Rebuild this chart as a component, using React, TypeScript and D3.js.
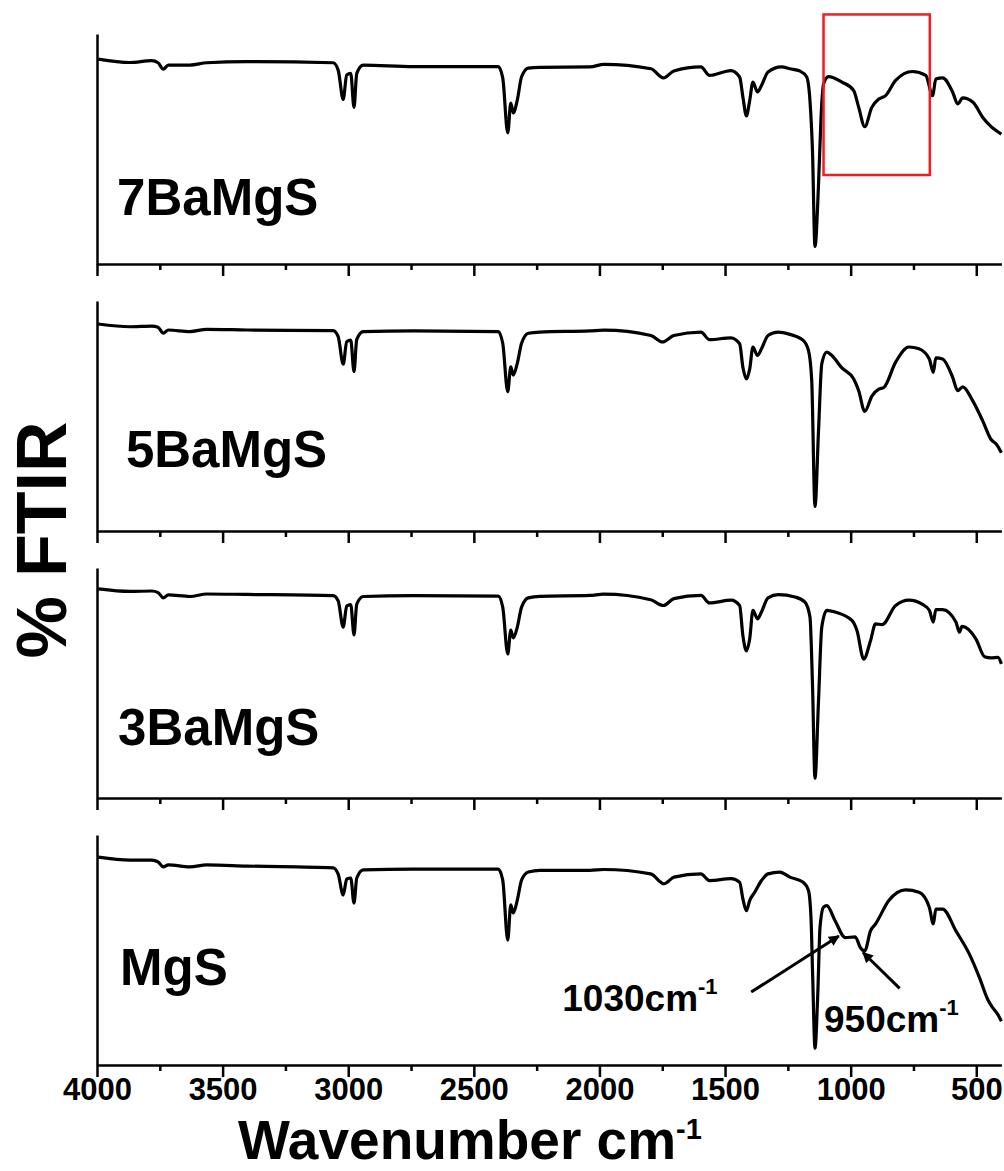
import React, { useRef, useEffect } from 'react';
import * as d3 from 'd3';

type Pt = [number, number];

// [wavenumber cm-1, %T], one array per sample
const ba7: Pt[] = [
  [3995, 89.1], [3869, 87.6], [3782, 88.4], [3757, 87.5], [3736, 84.7], [3716, 86.5], [3630, 86.5],
  [3563, 87.5], [3404, 88.0], [3060, 87.5], [3040, 84.3], [3020, 71.6], [3006, 82.2], [2990, 82.9],
  [2977, 68.1], [2966, 82.9], [2940, 86.5], [2741, 85.8], [2403, 85.8], [2385, 80.9], [2365, 57.0],
  [2353, 70.0], [2343, 65.7], [2327, 71.3], [2310, 81.4], [2283, 85.2], [2237, 85.5], [2038, 85.7],
  [1982, 86.8], [1795, 84.9], [1745, 80.9], [1704, 83.9], [1596, 85.7], [1562, 82.0], [1477, 84.1],
  [1442, 81.3], [1429, 72.6], [1415, 64.4], [1402, 71.0], [1389, 79.1], [1371, 74.8], [1355, 77.6],
  [1329, 83.5], [1275, 85.7], [1242, 84.9], [1202, 83.9], [1175, 81.3], [1162, 71.0], [1152, 49.1],
  [1142, 7.6], [1128, 34.5], [1118, 63.7], [1108, 78.3], [1088, 81.5], [1035, 79.1], [988, 75.4],
  [968, 68.1], [944, 59.7], [916, 68.1], [888, 71.7], [861, 73.2], [821, 79.8], [754, 83.7],
  [701, 82.0], [674, 73.2], [661, 80.4], [634, 80.9], [594, 74.7], [574, 69.6], [554, 72.2],
  [513, 70.3], [474, 63.7], [441, 59.7], [400, 56.5],
];

const ba5: Pt[] = [
  [3995, 90.0], [3869, 88.8], [3782, 89.1], [3757, 88.6], [3736, 86.0], [3716, 87.4], [3630, 86.7],
  [3563, 87.7], [3404, 87.4], [3060, 87.1], [3040, 84.5], [3020, 72.5], [3006, 82.3], [2990, 83.0],
  [2977, 69.3], [2966, 83.3], [2940, 86.7], [2741, 87.0], [2403, 86.7], [2385, 81.6], [2365, 60.6],
  [2353, 71.4], [2343, 67.8], [2327, 72.9], [2310, 81.6], [2283, 86.0], [2237, 86.5], [2038, 87.0],
  [1982, 87.3], [1795, 85.0], [1749, 82.2], [1704, 85.0], [1596, 86.5], [1562, 83.2], [1477, 84.0],
  [1442, 81.4], [1429, 71.2], [1415, 66.1], [1402, 70.4], [1389, 80.0], [1371, 76.3], [1355, 79.2],
  [1329, 85.0], [1289, 86.5], [1242, 85.5], [1189, 82.9], [1168, 78.5], [1155, 65.3], [1142, 10.7],
  [1128, 43.5], [1115, 72.7], [1095, 77.8], [1075, 76.3], [1035, 70.9], [988, 66.1], [968, 61.0],
  [944, 52.0], [915, 58.8], [888, 61.7], [868, 62.4], [821, 73.4], [768, 80.0], [728, 79.2],
  [687, 74.8], [671, 69.0], [661, 75.3], [634, 74.8], [594, 66.8], [574, 61.0], [554, 62.7],
  [514, 56.6], [474, 47.8], [441, 39.8], [420, 37.7], [400, 34.0],
];

const ba3: Pt[] = [
  [3995, 90.9], [3869, 89.8], [3782, 90.0], [3757, 89.3], [3736, 87.0], [3716, 88.3], [3630, 87.6],
  [3563, 88.7], [3404, 88.5], [3060, 88.0], [3040, 85.7], [3020, 74.3], [3006, 83.5], [2990, 84.1],
  [2977, 70.9], [2966, 84.3], [2940, 87.6], [2741, 88.0], [2403, 87.8], [2385, 83.0], [2365, 62.6],
  [2353, 73.0], [2343, 69.6], [2327, 74.3], [2310, 83.0], [2283, 87.0], [2237, 87.7], [2038, 88.1],
  [1983, 88.6], [1796, 86.2], [1745, 83.7], [1704, 86.7], [1596, 88.1], [1562, 84.8], [1476, 86.0],
  [1442, 83.7], [1429, 70.6], [1415, 64.0], [1402, 69.1], [1389, 81.6], [1371, 77.9], [1355, 80.9],
  [1329, 87.0], [1288, 88.4], [1222, 87.4], [1182, 85.2], [1162, 78.7], [1152, 49.6], [1142, 8.6],
  [1128, 42.2], [1115, 74.3], [1095, 81.6], [1062, 80.9], [995, 77.2], [975, 72.8], [948, 60.4],
  [921, 68.4], [901, 75.7], [875, 75.4], [821, 83.7], [768, 86.0], [714, 84.2], [687, 81.6],
  [671, 76.5], [661, 81.9], [634, 81.9], [581, 76.5], [567, 72.1], [557, 74.6], [501, 69.1],
  [467, 61.4], [441, 60.9], [414, 61.1], [400, 58.3],
];

const mgs: Pt[] = [
  [3995, 90.4], [3869, 89.1], [3782, 89.1], [3757, 88.3], [3736, 86.1], [3716, 87.0], [3630, 86.1],
  [3563, 87.0], [3404, 86.5], [3060, 85.7], [3040, 83.0], [3020, 73.9], [3006, 80.9], [2990, 81.3],
  [2977, 70.4], [2966, 81.3], [2940, 84.8], [2741, 85.2], [2403, 85.2], [2385, 80.4], [2365, 54.3],
  [2353, 69.6], [2343, 66.1], [2327, 71.7], [2310, 80.4], [2283, 83.9], [2237, 84.6], [2038, 84.6],
  [1983, 85.0], [1796, 83.1], [1743, 78.8], [1703, 81.7], [1596, 83.1], [1562, 80.2], [1476, 81.0],
  [1442, 79.5], [1429, 72.2], [1415, 67.1], [1402, 71.5], [1382, 75.1], [1355, 80.2], [1329, 83.1],
  [1282, 83.9], [1242, 81.7], [1189, 79.5], [1168, 75.9], [1158, 64.2], [1151, 37.9], [1142, 7.3],
  [1131, 30.6], [1122, 59.8], [1108, 68.6], [1095, 69.3], [1062, 62.7], [1021, 55.4], [982, 55.7],
  [961, 51.0], [944, 49.6], [921, 58.3], [901, 61.3], [848, 71.5], [781, 76.1], [728, 75.1],
  [687, 68.6], [671, 61.3], [661, 67.8], [634, 67.8], [581, 58.3], [527, 48.1], [487, 37.9],
  [454, 28.4], [434, 24.8], [414, 21.9], [400, 19.0],
];

const sampleNames = ['7BaMgS', '5BaMgS', '3BaMgS', 'MgS'];
const series = [ba7, ba5, ba3, mgs];
const majorTicks = [4000, 3500, 3000, 2500, 2000, 1500, 1000, 500];
const minorTicks = [3750, 3250, 2750, 2250, 1750, 1250, 750];

const FONT = "Arial, 'Liberation Sans', sans-serif";

export default function App() {
  const ref = useRef<SVGSVGElement>(null);

  useEffect(() => {
    const W = 1004, H = 1171;
    const left = 97, right = 1001.4;
    const panelH = 230, step = 267, top0 = 34;

    const svg = d3.select(ref.current);
    svg.selectAll('*').remove();
    svg.attr('width', W).attr('height', H);

    const defs = svg.append('defs');
    defs.append('marker')
      .attr('id', 'arrowHead')
      .attr('viewBox', '0 0 10 10')
      .attr('refX', 9).attr('refY', 5)
      .attr('markerWidth', 5).attr('markerHeight', 3.6)
      .attr('orient', 'auto')
      .append('path').attr('d', 'M0,0L10,5L0,10z').attr('fill', '#000');

    const x = d3.scaleLinear().domain([4000, 400]).range([left, right]);

    series.forEach((data, i) => {
      const top = top0 + i * step;
      const bottom = top + panelH;
      const y = d3.scaleLinear().domain([0, 100]).range([bottom, top]);
      const g = svg.append('g');

      // left axis, just the spine
      g.append('g')
        .attr('transform', `translate(${left},0)`)
        .call(d3.axisLeft(y).tickValues([]).tickSizeOuter(0))
        .call(a => a.select('.domain').attr('stroke-width', 2.5));

      // minor ticks
      g.append('g')
        .attr('transform', `translate(0,${bottom})`)
        .call(d3.axisBottom(x).tickValues(minorTicks).tickSize(6).tickSizeOuter(0).tickFormat(() => ''))
        .call(a => a.select('.domain').remove())
        .call(a => a.selectAll('line').attr('stroke-width', 2.5));

      // major ticks (+ labels on the last panel)
      const last = i === series.length - 1;
      g.append('g')
        .attr('transform', `translate(0,${bottom})`)
        .call(d3.axisBottom(x).tickValues(majorTicks).tickSize(12).tickSizeOuter(0).tickPadding(1)
          .tickFormat(d => (last ? String(d) : '')))
        .call(a => a.select('.domain').attr('stroke-width', 2.5))
        .call(a => a.selectAll('line').attr('stroke-width', 2.5))
        .call(a => a.selectAll('text')
          .style('font-family', FONT).style('font-weight', 'bold').style('font-size', '31px'));

      g.append('path')
        .datum(data)
        .attr('fill', 'none')
        .attr('stroke', '#000')
        .attr('stroke-width', 3.2)
        .attr('stroke-linejoin', 'round')
        .attr('d', d3.line<Pt>().x(d => x(d[0])).y(d => y(d[1])).curve(d3.curveMonotoneX));

      const labelAt: Pt[] = [[3920, 21.3], [3885, 28], [3916, 23], [3908, 34.8]];
      g.append('text')
        .attr('x', x(labelAt[i][0]))
        .attr('y', y(labelAt[i][1]))
        .style('font-family', FONT).style('font-weight', 'bold').style('font-size', '51px')
        .text(sampleNames[i]);

      if (i === 0) {
        // highlight box around the 1100-690 cm-1 region
        g.append('rect')
          .attr('x', x(1108)).attr('y', y(108.5))
          .attr('width', x(685) - x(1108)).attr('height', y(38.7) - y(108.5))
          .attr('fill', 'none').attr('stroke', '#f01e23').attr('stroke-width', 2.5);
      }

      if (last) {
        const arrows = [
          { from: [1396, 31.7], to: [1047, 56.1] },
          { from: [805, 33.3], to: [951, 48.9] },
        ];
        arrows.forEach(a => {
          g.append('line')
            .attr('x1', x(a.from[0])).attr('y1', y(a.from[1]))
            .attr('x2', x(a.to[0])).attr('y2', y(a.to[1]))
            .attr('stroke', '#000').attr('stroke-width', 3)
            .attr('marker-end', 'url(#arrowHead)');
        });
        const notes = [
          { t: '1030cm', at: [2148, 23.5] },
          { t: '950cm', at: [1106, 14.3] },
        ];
        notes.forEach(n => {
          const tx = g.append('text')
            .attr('x', x(n.at[0])).attr('y', y(n.at[1]))
            .style('font-family', FONT).style('font-weight', 'bold').style('font-size', '37px');
          tx.append('tspan').text(n.t);
          tx.append('tspan').attr('dy', -17).style('font-size', '22px').text('-1');
        });
      }
    });

    // x title
    const xt = svg.append('text')
      .attr('x', 238).attr('y', 1159)
      .style('font-family', FONT).style('font-weight', 'bold').style('font-size', '55px');
    xt.append('tspan').text('Wavenumber cm');
    xt.append('tspan').attr('dy', -20).style('font-size', '29px').text('-1');

    // y title
    svg.append('text')
      .attr('transform', 'translate(66,540) rotate(-90)')
      .attr('text-anchor', 'middle')
      .style('font-family', FONT).style('font-weight', 'bold').style('font-size', '70px')
      .text('% FTIR');
  }, []);

  return (
    <div style={{ position: 'absolute', left: 0, top: 0, background: '#fff' }}>
      <svg ref={ref}></svg>
    </div>
  );
}
